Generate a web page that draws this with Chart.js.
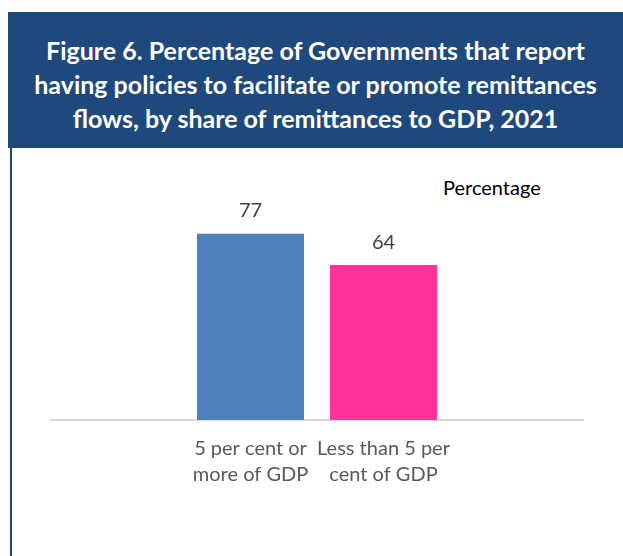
<!DOCTYPE html>
<html>
<head>
<meta charset="utf-8">
<script src="https://cdn.jsdelivr.net/npm/chart.js@4"></script>
<style>
  body { margin: 0; background: #fff; width: 623px; height: 556px; overflow: hidden; position: relative; }
  #header {
    position: absolute; left: 8px; top: 12px; width: 615px; height: 136px;
    background: #1F497D; color: #fff; font-family: Lato, sans-serif; font-weight: bold;
    font-size: 25px; line-height: 34px; text-align: center; box-sizing: border-box; padding-top: 21px;
  }
  #leftBorder { position: absolute; left: 10px; top: 148px; width: 2px; height: 408px; background: #1F497D; }
  #unit { position: absolute; left: 443px; top: 175px; font-family: Lato, sans-serif; font-size: 20px; color: #000; }
  #wrap { position: absolute; left: 0; top: 148px; width: 623px; height: 408px; }
</style>
</head>
<body>
<div id="header">Figure 6. Percentage of Governments that report<br>having policies to facilitate or promote remittances<br>flows, by share of remittances to GDP, 2021</div>
<div id="leftBorder"></div>
<div id="unit">Percentage</div>
<div id="wrap"><canvas id="chart"></canvas></div>
<script>
const categories = [["5 per cent or", "more of GDP"], ["Less than 5 per", "cent of GDP"]];
const values = [77, 64];
const barColors = ["#4F81BD", "#FF3399"];

// the original chart leaves one empty slot on each side of the two bars
const labels = ["", ...categories, ""];
const data = [null, ...values, null];
const colors = ["#fff", ...barColors, "#fff"];

const valueLabels = {
  id: "valueLabels",
  afterDatasetsDraw(chart) {
    const ctx = chart.ctx;
    const meta = chart.getDatasetMeta(0);
    ctx.save();
    ctx.font = "20px Lato, sans-serif";
    ctx.fillStyle = "#404040";
    ctx.textAlign = "center";
    ctx.textBaseline = "middle";
    meta.data.forEach((bar, i) => {
      if (data[i] == null) return;
      ctx.fillText(data[i], bar.x, bar.y - 23);
    });
    ctx.restore();
  }
};

new Chart(document.getElementById("chart"), {
  type: "bar",
  data: {
    labels,
    datasets: [{ data, backgroundColor: colors, barPercentage: 0.805, categoryPercentage: 1 }]
  },
  options: {
    responsive: true,
    maintainAspectRatio: false,
    animation: false,
    layout: { padding: { left: 51, right: 40, top: 30, bottom: 60 } },
    plugins: { legend: { display: false }, tooltip: { enabled: false } },
    scales: {
      y: { display: false, min: 0, max: 100 },
      x: {
        grid: { display: false },
        border: { display: true, color: "#D9D9D9", width: 2 },
        ticks: {
          color: "#595959",
          font: { family: "Lato, sans-serif", size: 20, lineHeight: 1.3 },
          padding: 8,
          maxRotation: 0,
          autoSkip: false
        }
      }
    }
  },
  plugins: [valueLabels]
});
</script>
</body>
</html>
